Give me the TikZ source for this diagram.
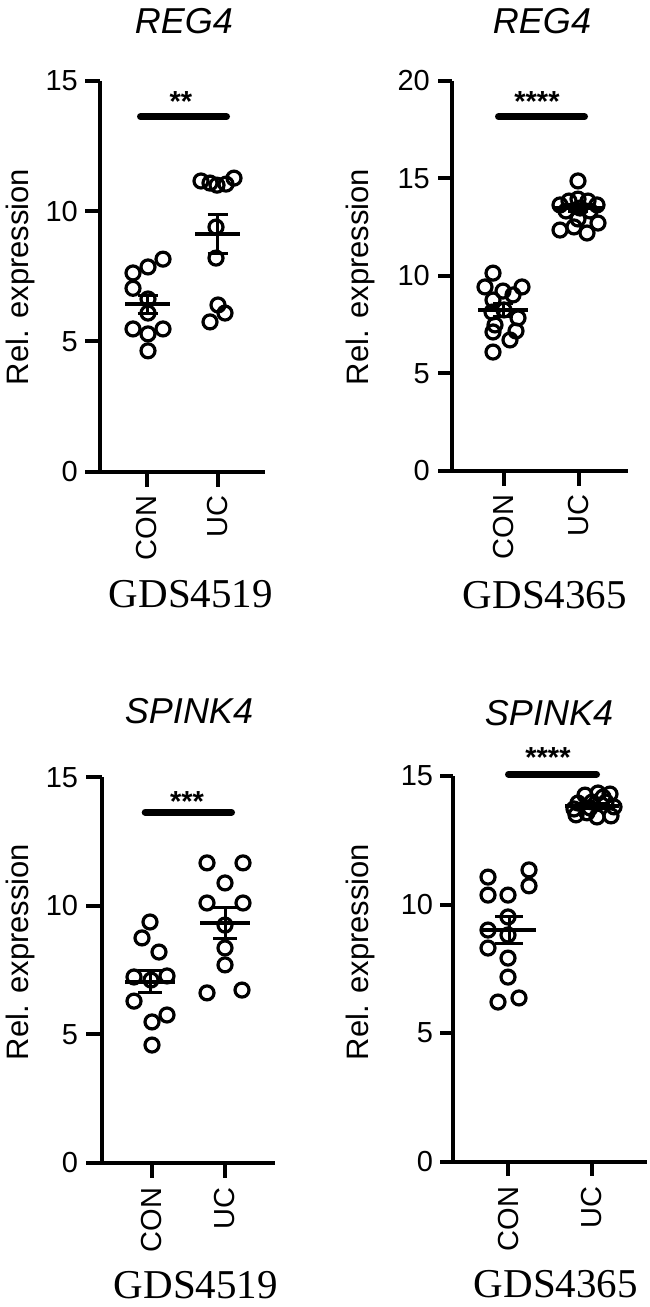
\documentclass[tikz,border=0pt]{standalone}
\usepackage{fontspec}
\setmainfont{Liberation Serif}
\setsansfont{Liberation Sans}
\usetikzlibrary{positioning}

\begin{document}
\begin{tikzpicture}[x=1pt, y=-1pt,
	axisline/.style={line width=4pt},
	ring/.style={line width=3.2pt},
	meanline/.style={line width=4pt},
	semline/.style={line width=3pt},
	sigbar/.style={line width=7pt, line cap=round},
	ticklab/.style={anchor=east, inner sep=0pt, font=\sffamily\fontsize{29}{29}\selectfont},
	grplab/.style={anchor=east, rotate=90, inner sep=0pt, font=\sffamily\fontsize{29}{29}\selectfont},
	ylab/.style={rotate=90, inner sep=0pt, font=\sffamily\fontsize{31}{31}\selectfont},
	gene/.style={anchor=base, inner sep=0pt, font=\sffamily\itshape\fontsize{36}{36}\selectfont},
	gds/.style={anchor=base, inner sep=0pt, font=\rmfamily\fontsize{41}{41}\selectfont},
	sigstars/.style={anchor=base, inner sep=0pt, font=\sffamily\bfseries\fontsize{29}{29}\selectfont}]
	\useasboundingbox (0,0) rectangle (650,1307);

	% titles, data sets, axis titles
	\node[gene] (geneA) at (184,33) {REG4};
	\node[gene] (geneB) at (542,33) {REG4};
	\node[gene] (geneC) at (189,723) {SPINK4};
	\node[gene] (geneD) at (549,725) {SPINK4};
	\node[gds] (setA) at (191,607) {GDS4519};
	\node[gds] (setB) at (545,608) {GDS4365};
	\node[gds] (setC) at (196,1298) {GDS4519};
	\node[gds] (setD) at (556,1297) {GDS4365};
	\foreach \n/\px/\py in {A/20/277, B/360/277, C/20/952, D/360/952}
		\node[ylab] (ylab\n) at (\px,\py) {Rel. expression};
	\node[sigstars] (starsA) at (181,111) {**};
	\node[sigstars] (starsB) at (537,111) {****};
	\node[sigstars] (starsC) at (187,811) {***};
	\node[sigstars] (starsD) at (548,767) {****};

	% REG4, GDS4519
	\begin{scope}[shift={(0,471.7)}, y=26.05pt]
		\draw[axisline] (100,15) -- (100,0) -- (265,0);
		\foreach \v in {0,5,10,15} {
			\draw[axisline] (85,\v) -- (100,\v);
			\node[ticklab] (tickA\v) at (78,\v) {\v};
		}
		\foreach \g/\gx in {CON/147,UC/218} {
			\draw[axisline] (\gx,0) -- ++(0pt,-15pt);
			\node[grplab] (A\g) at ([yshift=-24pt]\gx,0) {\g};
		}
		\foreach \px/\py in {163/8.16, 148/7.86, 133/7.63, 133/7.04, 148/6.63, 148/6.09, 133/5.48, 148/5.29, 163/5.48, 148/4.64,
			201/11.16, 210/11.08, 217/11.0, 226/11.04, 234/11.27, 216/9.39, 216/8.20, 218/6.40, 210/5.75, 225/6.09}
			\draw[ring] (\px,\py) circle (7pt);
		\foreach \cx/\m/\s in {147.5/6.43/0.35, 217.5/9.14/0.75} {
			\draw[meanline] ({\cx-22.5},\m) -- ({\cx+22.5},\m);
			\draw[semline] ({\cx-10},{\m+\s}) -- ({\cx+10},{\m+\s}) (\cx,{\m+\s}) -- (\cx,{\m-\s}) ({\cx-10},{\m-\s}) -- ({\cx+10},{\m-\s});
		}
		\coordinate (barAl) at (140.5,13.63);
		\coordinate (barAr) at (226.5,13.63);
		\draw[sigbar] (barAl) -- (barAr);
	\end{scope}

	% REG4, GDS4365
	\begin{scope}[shift={(0,470.7)}, y=19.485pt]
		\draw[axisline] (452,20) -- (452,0) -- (628,0);
		\foreach \v in {0,5,10,15,20} {
			\draw[axisline] (438,\v) -- (452,\v);
			\node[ticklab] (tickB\v) at (430,\v) {\v};
		}
		\foreach \g/\gx in {CON/504,UC/579} {
			\draw[axisline] (\gx,0) -- ++(0pt,-15pt);
			\node[grplab] (B\g) at ([yshift=-24pt]\gx,0) {\g};
		}
		\foreach \px/\py in {493/10.14, 485/9.43, 503/9.22, 522/9.43, 513/9.02, 493/8.76, 492/8.14, 504/8.25, 518/7.84, 495/7.48, 516/7.17, 493/7.12, 510/6.71, 493/6.09,
			578/14.87, 560/13.64, 569/13.84, 578/13.94, 588/13.84, 597/13.64, 566/13.33, 590/13.33, 580/13.48, 560/12.35, 574/12.51, 587/12.20, 598/12.71, 578/12.92}
			\draw[ring] (\px,\py) circle (7pt);
		\foreach \cx/\m/\s in {503/8.25/0.32, 578/13.48/0.2} {
			\draw[meanline] ({\cx-25},\m) -- ({\cx+25},\m);
			\draw[semline] ({\cx-10},{\m+\s}) -- ({\cx+10},{\m+\s}) (\cx,{\m+\s}) -- (\cx,{\m-\s}) ({\cx-10},{\m-\s}) -- ({\cx+10},{\m-\s});
		}
		\coordinate (barBl) at (498.5,18.17);
		\coordinate (barBr) at (584.5,18.17);
		\draw[sigbar] (barBl) -- (barBr);
	\end{scope}

	% SPINK4, GDS4519
	\begin{scope}[shift={(0,1162.7)}, y=25.69pt]
		\draw[axisline] (101.7,15) -- (101.7,0) -- (275,0);
		\foreach \v in {0,5,10,15} {
			\draw[axisline] (86,\v) -- (101.7,\v);
			\node[ticklab] (tickC\v) at (78.3,\v) {\v};
		}
		\foreach \g/\gx in {CON/151.7,UC/225} {
			\draw[axisline] (\gx,0) -- ++(0pt,-15pt);
			\node[grplab] (C\g) at ([yshift=-25pt]\gx,0) {\g};
		}
		\foreach \px/\py in {150/9.37, 142/8.75, 159/8.20, 134/7.23, 151/7.11, 167/7.27, 134/6.29, 152/5.48, 167/5.75, 152/4.58,
			207/11.67, 243/11.67, 225/10.89, 207/10.11, 243/10.11, 225/9.25, 225/8.36, 225/7.70, 207/6.61, 242/6.72}
			\draw[ring] (\px,\py) circle (7pt);
		\foreach \cx/\m/\s in {150/7.05/0.43, 225/9.32/0.6} {
			\draw[meanline] ({\cx-25},\m) -- ({\cx+25},\m);
			\draw[semline] ({\cx-12},{\m+\s}) -- ({\cx+12},{\m+\s}) (\cx,{\m+\s}) -- (\cx,{\m-\s}) ({\cx-12},{\m-\s}) -- ({\cx+12},{\m-\s});
		}
		\coordinate (barCl) at (145.2,13.64);
		\coordinate (barCr) at (231.5,13.64);
		\draw[sigbar] (barCl) -- (barCr);
	\end{scope}

	% SPINK4, GDS4365
	\begin{scope}[shift={(0,1161.7)}, y=25.71pt]
		\draw[axisline] (453.3,15) -- (453.3,0) -- (646.7,0);
		\foreach \v in {0,5,10,15} {
			\draw[axisline] (440,\v) -- (453.3,\v);
			\node[ticklab] (tickD\v) at (433.3,\v) {\v};
		}
		\foreach \g/\gx in {CON/508.3,UC/591.7} {
			\draw[axisline] (\gx,0) -- ++(0pt,-14pt);
			\node[grplab] (D\g) at ([yshift=-25pt]\gx,0) {\g};
		}
		\foreach \px/\py in {488/11.07, 488/10.37, 508/10.37, 529/11.35, 529/10.73, 508/9.52, 488/9.01, 508/8.82, 488/8.31, 508/7.92, 508/7.18, 498/6.21, 519/6.37,
			585/14.26, 598/14.34, 610/14.30, 603/14.18, 578/13.95, 592/13.99, 606/13.99, 574/13.72, 590/13.76, 614/13.80, 576/13.49, 597/13.41, 611/13.45, 587/13.57}
			\draw[ring] (\px,\py) circle (7pt);
		\foreach \cx/\m/\s in {509/9.01/0.52, 592/13.83/0.1} {
			\draw[meanline] ({\cx-27},\m) -- ({\cx+27},\m);
			\draw[semline] ({\cx-14},{\m+\s}) -- ({\cx+14},{\m+\s}) (\cx,{\m+\s}) -- (\cx,{\m-\s}) ({\cx-14},{\m-\s}) -- ({\cx+14},{\m-\s});
		}
		\coordinate (barDl) at (508.5,15.07);
		\coordinate (barDr) at (596.5,15.07);
		\draw[sigbar] (barDl) -- (barDr);
	\end{scope}
\end{tikzpicture}
\end{document}
